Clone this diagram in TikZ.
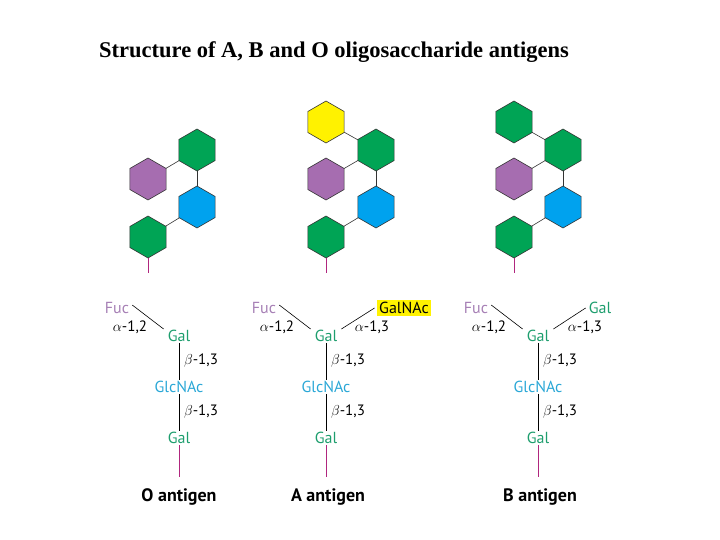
\documentclass[tikz,border=0pt]{standalone}
\usepackage{fontspec}
\setmainfont{Liberation Serif}
\newfontfamily\lab{PT Sans}
\usetikzlibrary{shapes.geometric,backgrounds}
\definecolor{hgreen}{HTML}{00A455}
\definecolor{hpurple}{HTML}{A66DB0}
\definecolor{hblue}{HTML}{00A2EE}
\definecolor{hyellow}{HTML}{FFF200}
\definecolor{tgreen}{HTML}{1E9E6E}
\definecolor{tblue}{HTML}{2AA7D6}
\definecolor{tpurple}{HTML}{A67FB5}
\definecolor{stem}{HTML}{B0267E}
\tikzset{hexa/.style={regular polygon,regular polygon sides=6,shape border rotate=30,minimum size=42pt,inner sep=0pt,draw=black!80,line width=0.6pt},
 lk/.style={draw=black!80,line width=0.6pt},
 st/.style={draw=stem,line width=0.8pt},
 t/.style={font=\lab\fontsize{16}{16}\selectfont,inner sep=1pt},
 lt/.style={font=\lab\fontsize{15}{15}\selectfont,inner sep=1pt},
 ch/.style={draw=black,line width=0.6pt}}
\begin{document}
\begin{tikzpicture}[x=1pt,y=-1pt]
\useasboundingbox (0,0) rectangle (720,540);
\node[font=\bfseries\fontsize{22.5}{22.5}\selectfont] (title) at (334,52) {Structure of A, B and O oligosaccharide antigens};
\foreach \c/\L/\R in {O/148/197,A/326/376,B/514/563}{
  \node[hexa,fill=hgreen] (\c g1) at (\R,150) {};
  \node[hexa,fill=hpurple] (\c p) at (\L,179) {};
  \node[hexa,fill=hblue] (\c b) at (\R,207) {};
  \node[hexa,fill=hgreen] (\c g2) at (\L,237) {};
  \coordinate (\c s) at (\L,273);
  \begin{scope}[on background layer]
  \draw[lk] (\c p.center) -- (\c g1.center);
  \draw[lk] (\c g1.center) -- (\c b.center);
  \draw[lk] (\c g2.center) -- (\c b.center);
  \end{scope}
  \draw[st] (\c g2.south) -- (\c s);
}
\node[hexa,fill=hyellow] (Ay) at (326,122) {};
\node[hexa,fill=hgreen] (By) at (514,122) {};
\begin{scope}[on background layer]
\draw[lk] (Ay.center) -- (Ag1.center);
\draw[lk] (By.center) -- (Bg1.center);
\end{scope}
\foreach \c/\x in {O/179,A/326,B/538}{
  \node[t,text=tgreen] (\c gal) at (\x,336) {Gal};
  \node[t,text=tblue] (\c glc) at (\x,387) {GlcNAc};
  \node[t,text=tgreen] (\c gal2) at (\x,438) {Gal};
  \node[t,text=tpurple] (\c fuc) at (\x-62,308) {Fuc};
  \node[lt] (\c a12) at (\x-49,327) {$\alpha$-1,2};
  \node[lt] (\c b1) at (\x+22,361) {$\beta$-1,3};
  \node[lt] (\c b2) at (\x+22,412) {$\beta$-1,3};
  \coordinate (\c e) at (\x,477);
  \draw[ch] (\c gal) -- (\c glc);
  \draw[ch] (\c glc) -- (\c gal2);
  \draw[st] (\c gal2) -- (\c e);
  \draw[ch] (\c fuc.east)++(2,-3) -- ([shift={(-3,0)}]\c gal.north west);
}
\node[t,fill=hyellow,inner sep=2.5pt] (Agn) at (404,308) {GalNAc};
\node[lt] (Aa13) at (372,327) {$\alpha$-1,3};
\draw[ch] ([shift={(-2,0)}]Agn.west) -- ([shift={(3,0)}]Agal.north east);
\node[t,text=tgreen] (Bgb) at (600,308) {Gal};
\node[lt] (Ba13) at (585,327) {$\alpha$-1,3};
\draw[ch] ([shift={(-2,0)}]Bgb.west) -- ([shift={(3,0)}]Bgal.north east);
\node[font=\lab\bfseries\fontsize{18}{18}\selectfont] (Ol) at (179,497) {O antigen};
\node[font=\lab\bfseries\fontsize{18}{18}\selectfont] (Al) at (328,497) {A antigen};
\node[font=\lab\bfseries\fontsize{18}{18}\selectfont] (Bl) at (540,497) {B antigen};
\end{tikzpicture}
\end{document}
